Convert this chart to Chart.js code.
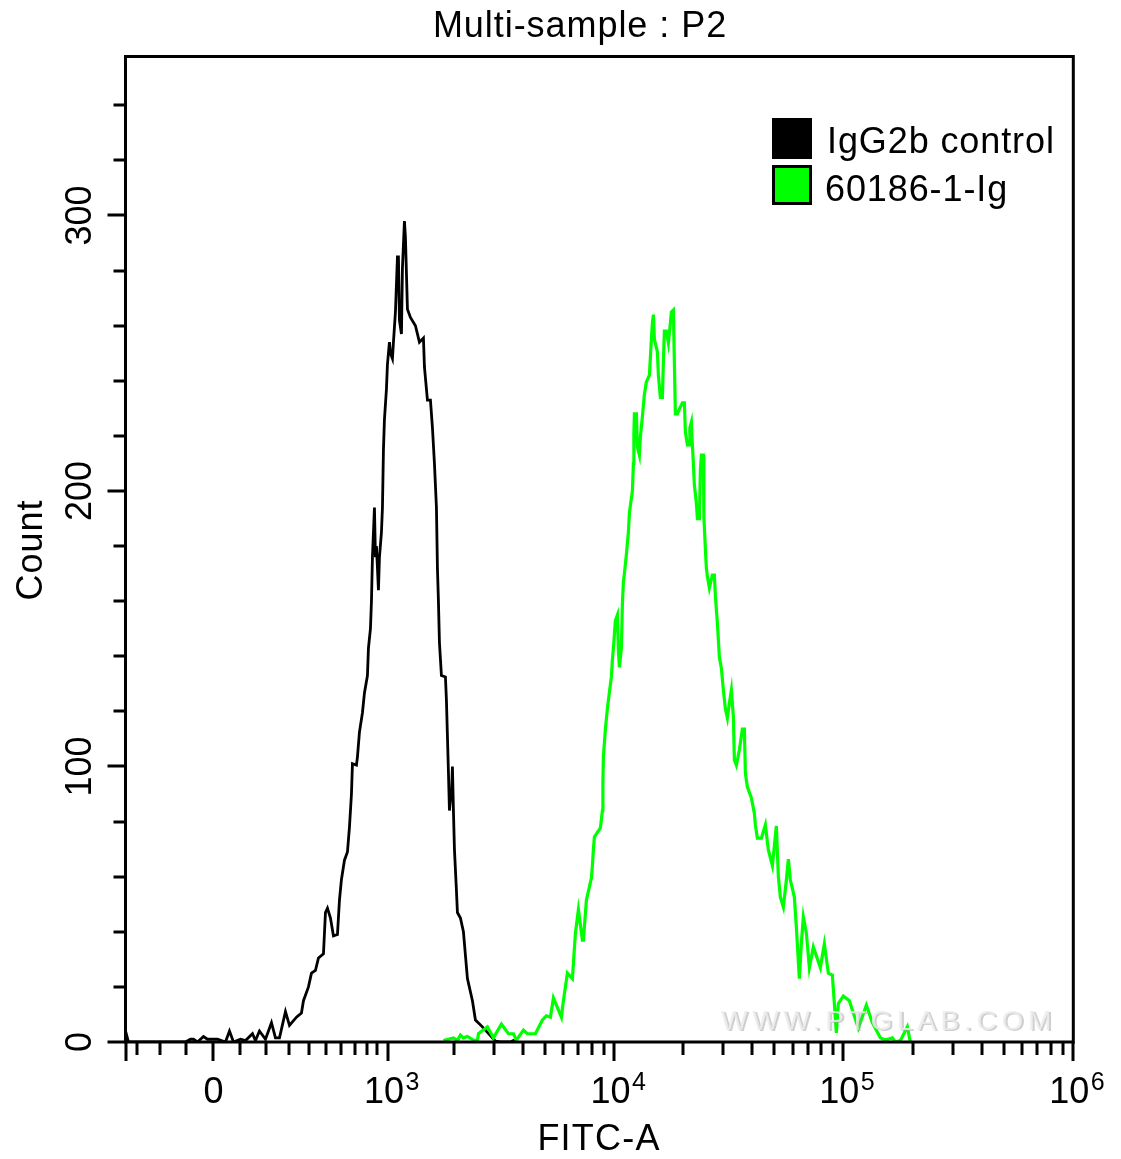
<!DOCTYPE html>
<html>
<head>
<meta charset="utf-8">
<title>Multi-sample : P2</title>
<script src="https://cdn.jsdelivr.net/npm/chart.js@4/dist/chart.umd.min.js"></script>
<style>
    html, body { margin: 0; padding: 0; background: #fff; }
    canvas { display: block; }
</style>
</head>
<body>
<canvas id="histChart" width="1121" height="1159"></canvas>
<script>
const controlChannel = [0, 3, 60, 65, 68, 72, 78, 82, 88, 92, 100, 104, 108, 115, 120, 127, 130, 134, 140, 146, 150, 154, 160, 164, 171, 176, 178, 183, 186, 190, 193, 198, 200, 202, 205, 208, 212, 214, 216, 219, 222, 224, 226, 227, 231, 232, 234, 237, 239, 242, 243, 245, 246, 247, 249, 250, 251, 253, 254, 256, 257, 258, 259, 261, 262, 264, 265, 267, 268, 270, 272, 273, 274, 276, 277, 279, 280, 282, 285, 290, 294, 298, 299, 302, 305, 307, 309, 311, 312, 313, 314, 316, 320, 321, 322, 323, 324, 325, 326, 327, 328, 329, 331, 332, 335, 338, 342, 347, 350, 357, 367, 370, 375, 385, 388, 391];
const controlCount = [4, 0, 0, 1, 1, 0, 2, 1, 1, 1, 0, 4, 0, 1, 0.5, 3, 0.5, 4, 1, 7, 1.5, 1.5, 11, 6, 9, 10.5, 15, 20, 25, 26, 30.5, 32, 47, 48.6, 45, 38.5, 39, 51.5, 59, 66, 69, 78, 90, 101, 100.5, 103.5, 112.5, 119.5, 126.7, 133, 143, 150, 160, 176, 194, 176, 180, 164, 176, 185, 194, 215, 226, 237, 246, 254, 250, 248, 254, 265, 285, 285, 262, 257, 281, 298, 292, 266, 263, 260, 254, 255.5, 245, 233, 233, 223, 210, 194, 172, 160, 145, 133, 132.5, 124, 111, 98, 84, 88, 89, 100, 84, 70, 55, 47, 45, 40, 23, 15, 8, 5.5, 1.5, 0.3, 0, 0, 0.5, 0];

const sampleChannel = [318, 328, 332, 335, 338, 342, 348, 352, 353, 362, 368, 376, 383, 388, 391, 398, 402, 410, 417, 421, 425, 428, 436, 438, 442, 447, 450, 453, 457, 458, 461, 466, 467, 468, 469, 471, 475, 477, 477.5, 478, 480, 482, 484, 486, 487, 488, 490, 492, 493, 494, 496, 497, 498, 499, 501, 503, 504, 507, 508, 508.5, 509, 511, 512, 514, 515, 517, 519, 521, 524, 526, 527, 528, 529, 532, 533, 535, 537, 538, 539, 541, 543, 545, 546, 548, 549, 550, 552, 555, 557, 559, 560, 562, 564, 564.5, 566, 567, 568, 569, 571, 572, 574, 575, 576, 578, 578.5, 580, 581, 582, 584, 587, 589, 590, 592, 594, 596, 598, 600, 602, 604, 606, 608, 609, 611, 614, 617, 619, 620, 622, 626, 629, 630, 632, 636, 640, 643, 647, 651, 653, 655, 658, 661, 663, 665, 669, 671, 674, 676, 678, 681, 684, 688, 695, 699, 703, 707, 709, 711, 713, 718, 724, 728, 733, 741, 747, 755, 760, 767, 770, 775, 782, 785];
const sampleCount = [0.5, 1.5, 0.5, 2.5, 1.5, 2, 0.7, 0.5, 3, 5.5, 1.5, 6.5, 3, 3, 0.7, 4.3, 3, 3, 8, 9.5, 9, 16, 9, 15, 25, 23, 39.5, 48, 37, 37, 51.5, 59.5, 64, 70, 74.4, 75.5, 77.7, 84, 94, 103.5, 113.6, 121, 127, 132.5, 138.7, 143, 153, 155, 142, 136, 143, 159, 167, 170, 177, 185, 192, 200, 210, 220.5, 228, 228, 216, 213, 219.6, 227, 235, 239.6, 242, 255, 261, 264, 255, 250.5, 242, 234, 234, 247, 258, 258, 253.7, 261, 265, 265.7, 246.5, 228, 228, 230.5, 232, 232, 221.4, 216.7, 216.7, 223, 225, 216.7, 210, 202, 195.6, 190, 190, 207.6, 213, 213, 190.5, 179, 172, 169, 164.8, 169.5, 169.5, 162, 152, 139.7, 135.7, 127.7, 121, 117.6, 123, 127.7, 118, 102.4, 100.5, 106, 113.6, 113.6, 97.6, 92.6, 88.6, 83, 78.8, 74, 74, 78.8, 69.7, 64, 78.4, 60, 52.6, 49, 58.8, 66.4, 58.8, 52.6, 41.7, 23, 36, 45.4, 39.6, 27, 34.5, 27, 35.6, 25, 24.3, 14, 3.3, 14, 16.7, 15, 10.5, 5, 13.4, 7, 1.5, 0.7, 1.5, 0, 0.5, 5.5, 0];

const xMajorTicks = [0, 88, 262.5, 489, 718, 948];
const xMajorLabels = [['', ''], ['0', ''], ['10', '3'], ['10', '4'], ['10', '5'], ['10', '6']];
const xMinorTicks = [12, 35, 61, 115, 141, 164, 184, 201, 216, 230, 242, 252, 329, 369, 398, 420, 438, 453, 467, 479, 558, 598, 627, 649, 668, 683, 696, 708, 788, 828, 857, 879, 897, 912, 926, 938];
const yMajorTicks = [0, 100, 200, 300];
const yMinorTicks = [20, 40, 60, 80, 120, 140, 160, 180, 220, 240, 260, 280, 320, 340];

const CONTROL_COLOR = '#000000';
const SAMPLE_COLOR = '#00ff00';
const FONT = '"Liberation Sans", Arial, sans-serif';

function drawText(ctx, text, x, y, size, align, spacing, angle) {
    ctx.save();
    ctx.translate(x, y);
    if (angle) ctx.rotate(angle);
    ctx.font = size + 'px ' + FONT;
    ctx.letterSpacing = (spacing || 0) + 'px';
    ctx.textAlign = align;
    ctx.textBaseline = 'alphabetic';
    ctx.fillStyle = '#000';
    ctx.fillText(text, 0, 0);
    ctx.restore();
}

// Frame, tick marks, labels, legend and watermark sit on top of the curves
const decorations = {
    id: 'decorations',
    afterDatasetsDraw(chart) {
        const ctx = chart.ctx;
        const area = chart.chartArea;
        const xs = chart.scales.x;
        const ys = chart.scales.y;

        // embossed watermark
        ctx.save();
        ctx.font = '28px ' + FONT;
        ctx.letterSpacing = '4.7px';
        ctx.textAlign = 'left';
        ctx.fillStyle = 'rgba(160, 160, 160, 0.5)';
        ctx.fillText('WWW.PTGLAB.COM', 723, 1031);
        ctx.fillStyle = 'rgba(235, 235, 235, 0.85)';
        ctx.fillText('WWW.PTGLAB.COM', 721, 1030);
        ctx.restore();

        ctx.save();
        ctx.strokeStyle = '#000';
        ctx.lineWidth = 3;
        ctx.strokeRect(area.left, area.top, area.right - area.left, area.bottom - area.top);

        ctx.beginPath();
        xMajorTicks.forEach(function (v) {
            const px = Math.round(xs.getPixelForValue(v));
            ctx.moveTo(px, area.bottom);
            ctx.lineTo(px, area.bottom + 19);
        });
        xMinorTicks.forEach(function (v) {
            const px = Math.round(xs.getPixelForValue(v));
            ctx.moveTo(px, area.bottom);
            ctx.lineTo(px, area.bottom + 13);
        });
        yMajorTicks.forEach(function (v) {
            const py = Math.round(ys.getPixelForValue(v));
            ctx.moveTo(area.left, py);
            ctx.lineTo(area.left - 18, py);
        });
        yMinorTicks.forEach(function (v) {
            const py = Math.round(ys.getPixelForValue(v));
            ctx.moveTo(area.left, py);
            ctx.lineTo(area.left - 12, py);
        });
        ctx.lineWidth = 3;
        ctx.stroke();
        ctx.restore();

        xMajorTicks.forEach(function (v, i) {
            const px = xs.getPixelForValue(v);
            const label = xMajorLabels[i];
            if (label[1]) {
                drawText(ctx, label[0], px - 24, 1103, 36, 'left');
                drawText(ctx, label[1], px + 17.5, 1090, 25, 'left');
            } else if (label[0]) {
                drawText(ctx, label[0], px, 1103, 36, 'center');
            }
        });
        yMajorTicks.forEach(function (v) {
            drawText(ctx, String(v), 91, ys.getPixelForValue(v), 36, 'center', 0, -Math.PI / 2);
        });

        drawText(ctx, 'Multi-sample : P2', 580, 37, 36, 'center', 0.95);
        drawText(ctx, 'FITC-A', 599, 1150, 36, 'center', 1.2);
        drawText(ctx, 'Count', 42, 550, 36, 'center', 1, -Math.PI / 2);

        // legend
        const sets = chart.data.datasets;
        ctx.save();
        ctx.fillStyle = sets[0].borderColor;
        ctx.fillRect(772, 118, 40, 41);
        ctx.fillStyle = sets[1].borderColor;
        ctx.strokeStyle = '#000';
        ctx.lineWidth = 3;
        ctx.fillRect(773, 166, 38, 38);
        ctx.strokeRect(773.5, 166.5, 37, 37);
        ctx.restore();
        drawText(ctx, sets[0].label, 827, 153, 36, 'left', 0.9);
        drawText(ctx, sets[1].label, 825, 201, 36, 'left', 0.9);
    }
};

function toPoints(channels, counts) {
    return channels.map(function (c, i) {
        return { x: c, y: counts[i] };
    });
}

new Chart(document.getElementById('histChart'), {
    type: 'line',
    data: {
        datasets: [{
            label: 'IgG2b control',
            data: toPoints(controlChannel, controlCount),
            borderColor: CONTROL_COLOR,
            borderWidth: 2.8,
            pointRadius: 0,
            tension: 0,
            order: 1
        }, {
            label: '60186-1-Ig',
            data: toPoints(sampleChannel, sampleCount),
            borderColor: SAMPLE_COLOR,
            borderWidth: 3.2,
            pointRadius: 0,
            tension: 0,
            order: 0
        }]
    },
    options: {
        responsive: false,
        animation: false,
        devicePixelRatio: 1,
        layout: {
            padding: { left: 125.5, right: 47.7, top: 56.5, bottom: 117 }
        },
        plugins: {
            legend: { display: false },
            tooltip: { enabled: false }
        },
        scales: {
            x: { type: 'linear', display: false, min: 0, max: 948 },
            y: { type: 'linear', display: false, min: 0, max: 357.7 }
        }
    },
    plugins: [decorations]
});
</script>
</body>
</html>
